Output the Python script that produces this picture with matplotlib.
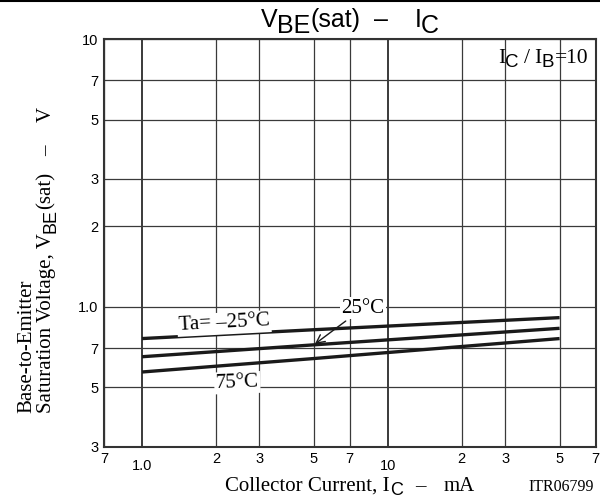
import matplotlib
matplotlib.use("Agg")
import matplotlib.pyplot as plt
from matplotlib.ticker import FixedLocator, FixedFormatter, NullFormatter
from matplotlib.transforms import Affine2D

# collector current (mA) and V_BE(sat) (V)
ic = [1.0, 5.0, 50.0]
vbe_m25 = [0.76, 0.82, 0.91]
vbe_25 = [0.65, 0.72, 0.83]
vbe_75 = [0.57, 0.64, 0.76]

x_major = [1.0, 10.0]
x_major_labels = ["1.0", "10"]
x_minor = [0.7, 2, 3, 5, 7, 20, 30, 50, 70]
x_minor_labels = ["7", "2", "3", "5", "7", "2", "3", "5", "7"]
y_ticks = [0.3, 0.5, 0.7, 1.0, 2, 3, 5, 7, 10]
y_labels = ["3", "5", "7", "1.0", "2", "3", "5", "7", "10"]

serif = "Liberation Serif"
sans = "Liberation Sans"


def rich_text(fig, x, y, segs, rotation=0, ha="center"):
    """Lay out text pieces along a baseline. segs: (text, family, size, drop_px)
    or a number meaning a gap in pixels."""
    r = fig.canvas.get_renderer()
    widths = []
    for s in segs:
        if isinstance(s, (int, float)):
            widths.append(s)
            continue
        t = fig.text(0, 0, s[0], family=s[1], fontsize=s[2])
        widths.append(t.get_window_extent(r).width)
        t.remove()
    total = sum(widths)
    pos = {"left": 0, "center": -total / 2, "right": -total}[ha]
    for s, w in zip(segs, widths):
        if not isinstance(s, (int, float)):
            text, fam, size, drop = s
            off = (pos, -drop) if rotation == 0 else (drop, pos)
            tr = fig.transFigure + Affine2D().translate(*off)
            fig.text(x, y, text, family=fam, fontsize=size, rotation=rotation,
                     rotation_mode="anchor", ha="left", va="baseline",
                     transform=tr)
        pos += w


fig = plt.figure(figsize=(6.0, 4.99), dpi=100)
ax = fig.add_axes([0.1733, 0.105, 0.8192, 0.8168])
ax.set_xscale("log")
ax.set_yscale("log")
ax.set_xlim(0.7, 70)
ax.set_ylim(0.3, 10)

ax.xaxis.set_major_locator(FixedLocator(x_major))
ax.xaxis.set_major_formatter(FixedFormatter(x_major_labels))
ax.xaxis.set_minor_locator(FixedLocator(x_minor))
ax.xaxis.set_minor_formatter(FixedFormatter(x_minor_labels))
ax.yaxis.set_major_locator(FixedLocator(y_ticks))
ax.yaxis.set_major_formatter(FixedFormatter(y_labels))
ax.yaxis.set_minor_formatter(NullFormatter())
ax.yaxis.set_minor_locator(FixedLocator([]))

ax.tick_params(axis="x", which="major", length=0, pad=9, labelsize=10.5)
ax.tick_params(axis="x", which="minor", length=0, pad=4, labelsize=10.5)
ax.tick_params(axis="y", which="major", length=0, pad=4, labelsize=10.5)
for lab in ax.get_xticklabels(which="both") + ax.get_yticklabels():
    lab.set_fontfamily(sans)

grid_col = "#3a3a3a"
ax.grid(True, which="major", axis="x", color=grid_col, lw=1.4)
ax.grid(True, which="minor", axis="x", color=grid_col, lw=0.9)
ax.grid(True, which="major", axis="y", color=grid_col, lw=0.9)
for s in ax.spines.values():
    s.set_linewidth(1.5)
    s.set_color("#333333")

for v in (vbe_m25, vbe_25, vbe_75):
    ax.plot(ic, v, color="#1a1a1a", lw=2.4, solid_capstyle="butt", zorder=3)

box = dict(facecolor="white", edgecolor="none", pad=1)
ax.text(2.16, 0.865, "Ta= –25°C", family=serif, fontsize=15, rotation=3,
        ha="center", va="center", bbox=box, zorder=4)
ax.text(2.44, 0.52, "75°C", family=serif, fontsize=15, rotation=2,
        ha="center", va="center", bbox=box, zorder=4)
ax.annotate("25°C", xy=(5.05, 0.725), xytext=(7.9, 0.985), family=serif,
            fontsize=15, ha="center", va="center", bbox=box, zorder=4,
            arrowprops=dict(arrowstyle="->", color="#1a1a1a", lw=1.0,
                            shrinkA=2, shrinkB=0))

rich_text(fig, 0.98, 0.874,
          [("I", serif, 15.5, 0), ("C", sans, 13.5, 4), 5, ("/", serif, 15.5, 0),
           5, ("I", serif, 15.5, 0), ("B", sans, 13.5, 4), ("=10", serif, 15.5, 0)],
          ha="right")

rich_text(fig, 0.583, 0.946,
          [("V", sans, 18, 0), ("BE", sans, 18, 6), ("(sat)", sans, 18, 0), 14,
           ("–", sans, 18, 0), 26, ("I", sans, 18, 0), ("C", sans, 18, 6)])
rich_text(fig, 0.583, 0.016,
          [("Collector Current, I", serif, 15, 0), ("C", sans, 13, 4), 12,
           ("–", serif, 15, 0), 18, ("mA", serif, 15, 0)])
fig.text(0.935, 0.016, "ITR06799", family=serif, fontsize=11.5,
         ha="center", va="baseline")

fig.text(0.052, 0.172, "Base-to-Emitter", family=serif, fontsize=15,
         rotation=90, rotation_mode="anchor", ha="left", va="baseline")
rich_text(fig, 0.085, 0.172,
          [("Saturation Voltage, V", serif, 15, 0), ("BE", sans, 13, 4),
           ("(sat)", serif, 15, 0), 16, ("–", serif, 15, 0), 24,
           ("V", serif, 15, 0)], rotation=90, ha="left")

# page border line across the top
fig.add_artist(plt.Line2D([0, 1], [0.998, 0.998], color="black", lw=1.5,
                          transform=fig.transFigure))

fig.savefig("out.png", dpi=100)
